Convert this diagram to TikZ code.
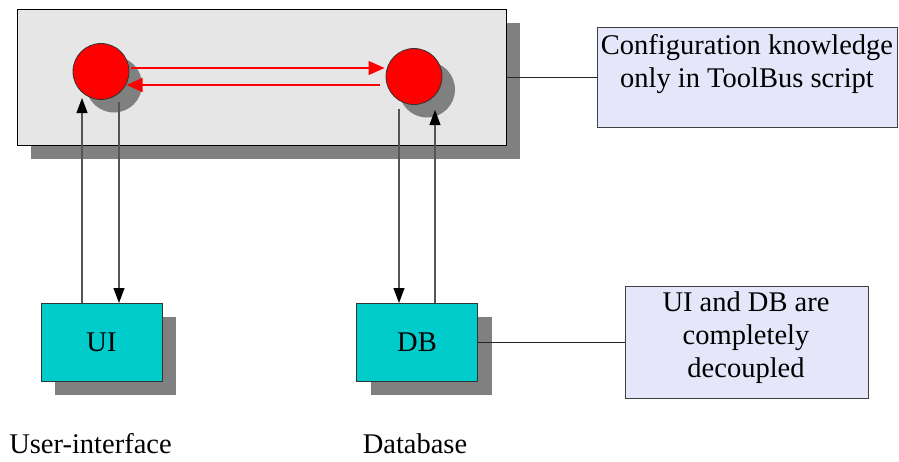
\documentclass[tikz,border=0pt]{standalone}
\usepackage{fontspec}
\setmainfont{Liberation Serif}
\usetikzlibrary{arrows.meta,shadows}
\definecolor{panelgray}{HTML}{E6E6E6}
\definecolor{shgray}{HTML}{808080}
\definecolor{boxcyan}{HTML}{00CCCC}
\definecolor{notelav}{HTML}{E6E6FA}
\definecolor{linegray}{HTML}{555555}
\begin{document}
\begin{tikzpicture}[x=1pt,y=-1pt,
  font=\fontsize{28.5}{33}\selectfont,
  sh/.style={drop shadow={opacity=1,fill=shgray,shadow xshift=14pt,shadow yshift=-14pt}},
  panel/.style={draw=black,fill=panelgray,line width=1pt,sh,minimum width=489pt,minimum height=136pt,inner sep=0pt},
  proc/.style={circle,draw=black!80,fill=red,line width=0.8pt,minimum size=56pt,inner sep=0pt,
    drop shadow={opacity=1,fill=shgray,shadow xshift=13pt,shadow yshift=-13pt}},
  tool/.style={draw=black!80,fill=boxcyan,line width=1pt,sh,minimum width=121pt,minimum height=78pt,inner sep=0pt},
  note/.style={draw=black!75,fill=notelav,line width=1pt,inner sep=0pt},
  lbl/.style={inner sep=0pt,align=center},
  arr/.style={draw=linegray,line width=1.1pt,-{Triangle[length=15pt,width=11pt,color=black]}},
  redarr/.style={draw=red,line width=1.6pt,-{Triangle[length=16pt,width=14pt]}},
  conn/.style={draw=black!85,line width=1pt}]
\useasboundingbox (0,0) rectangle (899,461);
\fill[white] (0,0) rectangle (899,461);
% main ToolBus panel
\node[panel] (panel) at (261.5,77) {};
% processes
\node[proc] (lc) at (101,71.5) {};
\node[proc] (rc) at (414,76.5) {};
% tools
\node[tool] (ui) at (101.5,342) {UI};
\node[tool] (db) at (417,342) {DB};
% notes
\node[note,minimum width=300pt,minimum height=100pt] (cfg) at (747,77) {};
\node[lbl] (cfgtext) at (747,64) {Configuration knowledge\\only in ToolBus script};
\node[note,minimum width=243pt,minimum height=112pt] (dec) at (746.5,342) {};
\node[lbl] (dectext) at (746,338) {UI and DB are\\completely\\decoupled};
% labels
\node[lbl,anchor=base] (uil) at (90.5,453) {User-interface};
\node[lbl,anchor=base] (dbl) at (415,453) {Database};
% coordinates
\coordinate (luT) at (82,98);
\coordinate (luB) at (82,303);
\coordinate (ldT) at (119,102);
\coordinate (ldB) at (119,303);
\coordinate (rdT) at (399,109);
\coordinate (rdB) at (399,303);
\coordinate (ruT) at (435,110);
\coordinate (ruB) at (435,303);
\coordinate (r1s) at (131,68);
\coordinate (r1e) at (384.5,68);
\coordinate (r2s) at (380,85);
\coordinate (r2e) at (126.5,85);
% connectors
\draw[arr] (luB) -- (luT);
\draw[arr] (ldT) -- (ldB);
\draw[arr] (rdT) -- (rdB);
\draw[arr] (ruB) -- (ruT);
\draw[redarr] (r1s) -- (r1e);
\draw[redarr] (r2s) -- (r2e);
\draw[conn] (panel.east) -- (cfg.west);
\draw[conn] (db.east) -- (dec.west);
\end{tikzpicture}
\end{document}
